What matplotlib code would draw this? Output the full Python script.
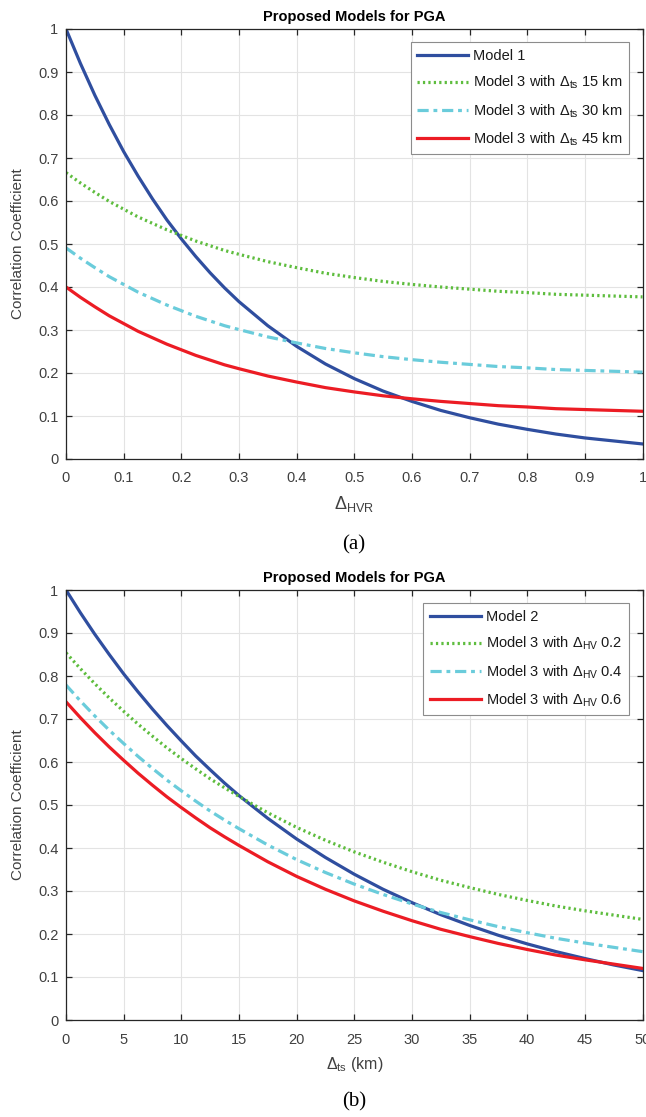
import matplotlib
matplotlib.use("Agg")
import matplotlib.pyplot as plt

plt.rcParams['font.family'] = ['Liberation Sans', 'DejaVu Sans']
plt.rcParams['mathtext.fontset'] = 'custom'
plt.rcParams['mathtext.rm'] = 'Liberation Sans'
plt.rcParams['mathtext.it'] = 'Liberation Sans:italic'
plt.rcParams['mathtext.bf'] = 'Liberation Sans:bold'

# ---------------- data (a) ----------------
x_hvr = [0.000, 0.025, 0.050, 0.075, 0.100, 0.125, 0.150, 0.175, 0.200, 0.225, 0.250,
         0.275, 0.300, 0.350, 0.400, 0.450, 0.500, 0.550, 0.600, 0.650, 0.700,
         0.750, 0.800, 0.850, 0.900, 0.950, 1.000]
a_model1 = [1.000, 0.920, 0.846, 0.778, 0.715, 0.658, 0.605, 0.556, 0.512, 0.471, 0.433,
            0.398, 0.366, 0.310, 0.262, 0.221, 0.187, 0.158, 0.134, 0.113, 0.096,
            0.081, 0.069, 0.058, 0.049, 0.042, 0.035]
a_ts15 = [0.666, 0.642, 0.620, 0.599, 0.581, 0.563, 0.548, 0.533, 0.520, 0.507, 0.496,
          0.485, 0.476, 0.459, 0.445, 0.432, 0.422, 0.413, 0.406, 0.400, 0.395,
          0.390, 0.387, 0.383, 0.381, 0.379, 0.377]
a_ts30 = [0.491, 0.467, 0.445, 0.424, 0.406, 0.388, 0.373, 0.358, 0.345, 0.332, 0.321,
          0.310, 0.301, 0.284, 0.270, 0.257, 0.247, 0.238, 0.231, 0.225, 0.220,
          0.215, 0.212, 0.208, 0.206, 0.204, 0.202]
a_ts45 = [0.400, 0.376, 0.354, 0.333, 0.315, 0.297, 0.282, 0.267, 0.254, 0.241, 0.230,
          0.219, 0.210, 0.193, 0.179, 0.166, 0.156, 0.147, 0.140, 0.134, 0.129,
          0.124, 0.121, 0.117, 0.115, 0.113, 0.111]
a_labels = ['Model 1',
            r'Model 3 with $\Delta_{\rm ts}$ 15 km',
            r'Model 3 with $\Delta_{\rm ts}$ 30 km',
            r'Model 3 with $\Delta_{\rm ts}$ 45 km']
a_xticks = [0, 0.1, 0.2, 0.3, 0.4, 0.5, 0.6, 0.7, 0.8, 0.9, 1]
a_xticklabels = ['0', '0.1', '0.2', '0.3', '0.4', '0.5', '0.6', '0.7', '0.8', '0.9', '1']

# ---------------- data (b) ----------------
x_ts = [0.00, 1.25, 2.50, 3.75, 5.00, 6.25, 7.50, 8.75, 10.00, 11.25, 12.50,
        13.75, 15.00, 17.50, 20.00, 22.50, 25.00, 27.50, 30.00, 32.50, 35.00,
        37.50, 40.00, 42.50, 45.00, 47.50, 50.00]
b_model2 = [1.000, 0.947, 0.897, 0.850, 0.805, 0.763, 0.723, 0.685, 0.649, 0.614, 0.582,
            0.551, 0.522, 0.469, 0.421, 0.378, 0.339, 0.304, 0.273, 0.245, 0.220,
            0.197, 0.177, 0.159, 0.143, 0.128, 0.115]
b_hv02 = [0.854, 0.817, 0.782, 0.749, 0.718, 0.688, 0.660, 0.633, 0.608, 0.584, 0.561,
          0.540, 0.520, 0.482, 0.448, 0.418, 0.391, 0.367, 0.345, 0.325, 0.308,
          0.292, 0.278, 0.265, 0.254, 0.244, 0.234]
b_hv04 = [0.779, 0.742, 0.707, 0.674, 0.643, 0.613, 0.585, 0.558, 0.533, 0.509, 0.486,
          0.465, 0.445, 0.407, 0.373, 0.343, 0.316, 0.292, 0.270, 0.250, 0.233,
          0.217, 0.203, 0.190, 0.179, 0.169, 0.159]
b_hv06 = [0.740, 0.703, 0.668, 0.635, 0.604, 0.574, 0.546, 0.519, 0.494, 0.470, 0.447,
          0.426, 0.406, 0.368, 0.334, 0.304, 0.277, 0.253, 0.231, 0.211, 0.194,
          0.178, 0.164, 0.151, 0.140, 0.130, 0.120]
b_labels = ['Model 2',
            r'Model 3 with $\Delta_{\rm HV}$ 0.2',
            r'Model 3 with $\Delta_{\rm HV}$ 0.4',
            r'Model 3 with $\Delta_{\rm HV}$ 0.6']
b_xticks = [0, 5, 10, 15, 20, 25, 30, 35, 40, 45, 50]

yticks = [0, 0.1, 0.2, 0.3, 0.4, 0.5, 0.6, 0.7, 0.8, 0.9, 1]
yticklabels = ['0', '0.1', '0.2', '0.3', '0.4', '0.5', '0.6', '0.7', '0.8', '0.9', '1']

title_text = 'Proposed Models for PGA'
ylabel_text = 'Correlation Coefficient'

# ---------------- styles ----------------
C_BLUE = '#2F4E9F'
C_GREEN = '#5EBD3E'
C_CYAN = '#6ACCDB'
C_RED = '#EC1C24'
LW = 2.3
AX_COL = '#262626'
TXT_COL = '#404040'

fig = plt.figure(figsize=(6.46, 11.17), dpi=100)
W, H = 646.0, 1117.0


def make_axes(top_px, bottom_px):
    return fig.add_axes([66 / W, 1 - bottom_px / H, 576.5 / W, (bottom_px - top_px) / H])


def style(ax, xlim, xticks, xticklabels):
    ax.set_xlim(*xlim)
    ax.set_ylim(0, 1)
    ax.set_xticks(xticks)
    ax.set_xticklabels(xticklabels)
    ax.set_yticks(yticks)
    ax.set_yticklabels(yticklabels)
    ax.grid(True, color='#E3E3E3', linewidth=0.8)
    ax.set_axisbelow(True)
    for s in ax.spines.values():
        s.set_color(AX_COL)
        s.set_linewidth(0.9)
    ax.tick_params(axis='both', direction='in', length=4.5, width=0.9, color=AX_COL,
                   top=True, right=True, labelsize=10.5, labelcolor=TXT_COL)
    ax.tick_params(axis='x', pad=9)
    ax.tick_params(axis='y', pad=5.5)
    ax.set_title(title_text, fontsize=10.5, fontweight='bold', color='black', pad=6)
    ax.set_ylabel(ylabel_text, fontsize=11, color=TXT_COL, labelpad=9)


DOT = (0, (0.7, 1.0))
DASHDOT = (0, (3.5, 1.5, 1.2, 1.5))

# (a)
ax1 = make_axes(29, 459)
ax1.plot(x_hvr, a_model1, color=C_BLUE, lw=LW, label=a_labels[0])
ax1.plot(x_hvr, a_ts15, color=C_GREEN, lw=LW, ls=DOT, label=a_labels[1])
ax1.plot(x_hvr, a_ts30, color=C_CYAN, lw=LW, ls=DASHDOT, label=a_labels[2])
ax1.plot(x_hvr, a_ts45, color=C_RED, lw=LW, label=a_labels[3])
style(ax1, (0, 1), a_xticks, a_xticklabels)
ax1.set_xlabel(r'$\Delta_{\rm HVR}$', fontsize=13, color=TXT_COL, labelpad=6)

# (b)
ax2 = make_axes(590, 1020)
ax2.plot(x_ts, b_model2, color=C_BLUE, lw=LW, label=b_labels[0])
ax2.plot(x_ts, b_hv02, color=C_GREEN, lw=LW, ls=DOT, label=b_labels[1])
ax2.plot(x_ts, b_hv04, color=C_CYAN, lw=LW, ls=DASHDOT, label=b_labels[2])
ax2.plot(x_ts, b_hv06, color=C_RED, lw=LW, label=b_labels[3])
style(ax2, (0, 50), b_xticks, [str(v) for v in b_xticks])
ax2.set_xlabel(r'$\Delta_{\rm ts}$ (km)', fontsize=11.5, color=TXT_COL, labelpad=6)

for ax in (ax1, ax2):
    leg = ax.legend(loc='upper right', bbox_to_anchor=(0.977, 0.969), fontsize=10.5,
                    handlelength=3.5, handletextpad=0.35, borderpad=0.45, labelspacing=0.75,
                    fancybox=False, framealpha=1, borderaxespad=0)
    leg.get_frame().set_edgecolor('#8C8C8C')
    leg.get_frame().set_linewidth(0.8)
    for t in leg.get_texts():
        t.set_color('#1A1A1A')

fig.text(354 / W, 1 - 545 / H, '(a)', family='Liberation Serif', fontsize=15,
         ha='center', va='center', color='black')
fig.text(354 / W, 1 - 1102 / H, '(b)', family='Liberation Serif', fontsize=15,
         ha='center', va='center', color='black')

fig.savefig('out.png', dpi=100)
